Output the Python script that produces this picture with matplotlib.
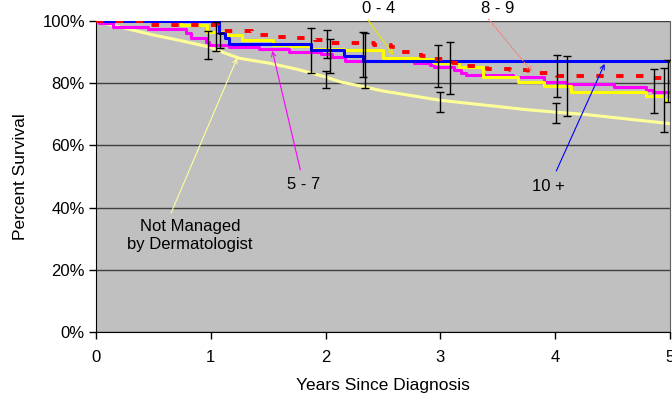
import matplotlib.pyplot as plt

plt.rcParams['font.family'] = ['Liberation Sans', 'DejaVu Sans']

# Kaplan-Meier style survival curves (years, percent)
not_managed_x = [0, 0.1, 0.25, 0.5, 0.75, 1.0, 1.1, 1.25, 1.5, 1.75, 2.0, 2.13, 2.25, 2.5, 2.75,
                 3.0, 3.25, 3.5, 3.75, 4.0, 4.25, 4.5, 4.75, 5.0]
not_managed_y = [100, 99, 97.7, 95.5, 93.6, 91.5, 90, 88, 86.5, 84.5, 82, 80.4, 79.5, 77.5, 76,
                 74.5, 73.5, 72.5, 71.5, 70.7, 70, 69, 68, 67]

g57_x = [0, 0.026, 0.148, 0.454, 0.785, 0.829, 0.96, 0.986, 1.16, 1.42, 1.68, 1.96, 2.06, 2.17,
         2.77, 2.91, 2.94, 3.12, 3.18, 3.22, 3.63, 3.90, 4.09, 4.51, 4.79, 4.85, 5.0]
g57_y = [100, 99.3, 98.2, 97.4, 96.0, 94.6, 93.3, 92.3, 91.7, 91.0, 90.1, 89.3, 88.5, 87.1,
         86.4, 85.9, 85.1, 84.2, 83.2, 82.7, 82.1, 80.5, 79.7, 78.9, 77.8, 77.3, 77.3]

g04_x = [0, 0.74, 0.97, 1.14, 1.27, 1.54, 1.69, 1.87, 2.16, 2.50, 2.83, 2.94, 3.16, 3.37, 3.68,
         3.90, 4.14, 4.79, 4.95, 5.0]
g04_y = [100, 98.7, 96.5, 95.5, 93.9, 92.3, 92.0, 91.1, 90.6, 88.2, 87.7, 86.4, 85.3, 82.1, 80.5,
         79.0, 77.3, 76.0, 74.6, 74.6]

g10_x = [0, 1.07, 1.12, 1.16, 1.87, 2.16, 2.33, 5.0]
g10_y = [100, 96.0, 94.6, 92.6, 90.8, 88.9, 87.1, 87.1]

g89_x = [0, 0.45, 1.06, 1.11, 1.36, 1.52, 1.72, 1.91, 2.04, 2.15, 2.42, 2.57, 2.63, 2.74, 2.83,
         2.93, 3.11, 3.19, 3.41, 3.61, 3.76, 4.02, 4.83, 4.98, 5.0]
g89_y = [100, 98.7, 97.7, 96.9, 95.5, 95.0, 94.5, 93.9, 93.0, 92.8, 92.3, 91.7, 90.1, 89.9, 88.7,
         87.7, 86.4, 85.5, 84.7, 84.2, 83.4, 82.4, 81.6, 80.5, 80.5]

# confidence interval bars: x, low, high
ci_x = [0.977, 1.047, 1.082, 1.876, 2.007, 2.016, 2.042, 2.33, 2.34, 2.976, 3.0, 3.08,
        4.005, 4.014, 4.10, 4.86, 4.95, 4.98]
ci_lo = [87.8, 90.4, 91.2, 83.2, 78.5, 88.0, 83.4, 82.1, 78.6, 78.9, 70.8, 76.4,
         67.1, 75.5, 69.5, 70.5, 64.3, 74.1]
ci_hi = [96.8, 99.6, 96.0, 97.7, 84.0, 97.1, 94.1, 96.6, 96.0, 92.3, 77.1, 93.3,
         73.5, 89.1, 88.7, 84.6, 84.8, 87.5]

fig = plt.figure(figsize=(6.72, 3.94), dpi=100)
ax = fig.add_axes([96/672, 1 - 332/394, (670 - 96)/672, (332 - 21)/394])
ax.set_facecolor('#C0C0C0')

# the unmanaged group has many tiny steps, drawn as a line
ax.plot(not_managed_x, not_managed_y, color='#FFFF99', lw=2.2, zorder=3)
ax.step(g57_x, g57_y, where='post', color='#FF00FF', lw=2.2, zorder=4)
ax.step(g04_x, g04_y, where='post', color='#FFFF00', lw=2.2, zorder=4)
ax.step(g10_x, g10_y, where='post', color='#0000FF', lw=2.2, zorder=5)
ax.step(g89_x, g89_y, where='post', color='#FF0000', lw=2.8, zorder=6,
        linestyle=(0, (1.9, 3.2)))

for x, lo, hi in zip(ci_x, ci_lo, ci_hi):
    ax.errorbar(x, (lo + hi) / 2, yerr=[[(hi - lo) / 2], [(hi - lo) / 2]], fmt='none',
                ecolor='black', elinewidth=1, capsize=2.7, capthick=1, zorder=7)

# labels with pointer lines
def label(text, txy, tail, tip, color, ls='-'):
    ax.text(txy[0], txy[1], text, ha='center', va='center', fontsize=12,
            clip_on=False, zorder=8, linespacing=1.3)
    ax.annotate('', xy=tip, xytext=tail, annotation_clip=False, zorder=8,
                arrowprops=dict(arrowstyle='->', color=color, lw=0.8, ls=ls,
                                shrinkA=0, shrinkB=0, mutation_scale=8))

label('0 - 4', (2.46, 104.0), (2.37, 100.3), (2.59, 89.1), '#E8E800')
label('8 - 9', (3.50, 104.0), (3.42, 100.6), (3.80, 83.6), '#FF7070', ':')
label('5 - 7', (1.81, 47.3), (1.78, 52.1), (1.536, 90.4), '#FF00FF')
label('Not Managed\nby Dermatologist', (0.82, 31.0), (0.654, 38.3), (1.23, 88.1), '#FFFF99')
label('10 +', (3.94, 46.9), (4.01, 51.8), (4.43, 86.2), '#0000FF')

ax.set_xlim(0, 5)
ax.set_ylim(0, 100)
ax.set_xticks([0, 1, 2, 3, 4, 5])
ax.set_yticks([0, 20, 40, 60, 80, 100])
ax.set_yticklabels(['0%', '20%', '40%', '60%', '80%', '100%'])
ax.tick_params(direction='out', length=5, width=1, labelsize=12, pad=3)
ax.tick_params(axis='x', pad=8)
ax.grid(axis='y', color='#404040', lw=1, zorder=1)
ax.set_axisbelow(True)

for side in ['left', 'bottom']:
    ax.spines[side].set_color('black')
ax.spines['top'].set_visible(False)
ax.spines['right'].set_color('#606060')

ax.set_xlabel('Years Since Diagnosis', fontsize=12.5, labelpad=9)
ax.set_ylabel('Percent Survival', fontsize=12.5, labelpad=10)

plt.savefig('out.png', dpi=100)
